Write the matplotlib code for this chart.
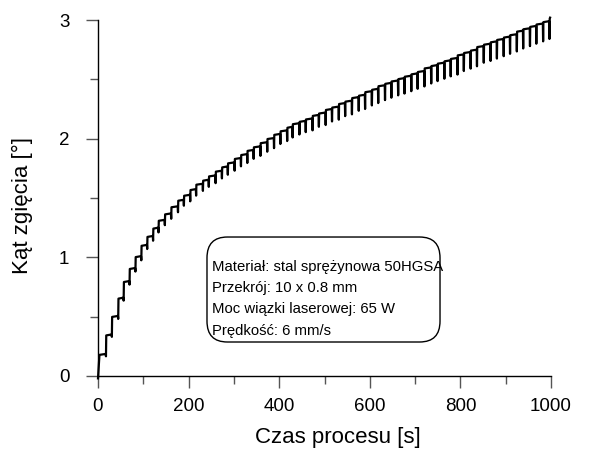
import numpy as np
import matplotlib.pyplot as plt
from matplotlib.ticker import MultipleLocator
from matplotlib.patches import FancyBboxPatch

plt.rcParams['font.family'] = ['Liberation Sans', 'DejaVu Sans']

# Times of the laser passes [s]
pass_times = [2, 17, 30, 44, 56, 69, 82, 95, 108, 121, 133, 147, 161, 176,
              189, 203, 216, 231, 244, 259, 273, 286, 301, 315, 329, 343, 358,
              373, 388, 402, 417, 429, 444, 458, 473, 487, 502, 516, 531, 545,
              560, 575, 589, 604, 618, 633, 647, 662, 676, 691, 705, 720, 735,
              749, 764, 778, 793, 807, 822, 836, 851, 866, 880, 895, 909, 924,
              938, 953, 967, 982, 996]

# Bending angle reached after each pass [deg]
levels = [0.186, 0.35, 0.506, 0.66, 0.80, 0.91, 1.01, 1.105, 1.18, 1.25, 1.316,
          1.37, 1.43, 1.485, 1.527, 1.575, 1.62, 1.654, 1.69, 1.73, 1.766, 1.80,
          1.837, 1.87, 1.905, 1.935, 1.97, 2.005, 2.04, 2.07, 2.10, 2.13, 2.15,
          2.17, 2.20, 2.22, 2.25, 2.27, 2.30, 2.32, 2.35, 2.37, 2.40, 2.42, 2.45,
          2.47, 2.49, 2.51, 2.53, 2.55, 2.57, 2.60, 2.62, 2.64, 2.66, 2.68, 2.71,
          2.73, 2.75, 2.78, 2.80, 2.82, 2.84, 2.86, 2.88, 2.91, 2.93, 2.95, 2.97,
          2.99, 3.02]

# Momentary drop of the angle when the beam passes [deg]
drops = [0.02, 0.02, 0.02, 0.025, 0.025, 0.03, 0.03, 0.035, 0.035, 0.04, 0.04,
         0.045, 0.045, 0.05, 0.05, 0.055, 0.055, 0.06, 0.06, 0.065, 0.065, 0.07,
         0.07, 0.07, 0.075, 0.075, 0.08, 0.08, 0.085, 0.085, 0.09, 0.09, 0.095,
         0.095, 0.10, 0.10, 0.105, 0.105, 0.11, 0.11, 0.115, 0.115, 0.12, 0.12,
         0.12, 0.125, 0.125, 0.125, 0.13, 0.13, 0.13, 0.13, 0.135, 0.135, 0.135,
         0.135, 0.14, 0.14, 0.14, 0.14, 0.14, 0.145, 0.145, 0.145, 0.145, 0.145,
         0.15, 0.15, 0.15, 0.15, 0.15]

creep = 0.008

# build the sawtooth path from the pass data
t = [0.0]
y = [-0.02]
prev = 0.0
for i, tp in enumerate(pass_times):
    if i > 0:
        t.append(tp)
        y.append(prev + creep)
        t.append(tp + 0.6)
        y.append(prev + creep - drops[i])
    t.append(tp + 1.2)
    y.append(levels[i] - creep)
    prev = levels[i] - creep
t.append(pass_times[-1] + 2)
y.append(levels[-1])

fig = plt.figure(figsize=(5.93, 4.55), dpi=100)
ax = fig.add_axes([98 / 593, 79 / 455, 453 / 593, 356 / 455])

ax.plot(t, y, color='black', lw=1.6, clip_on=False, zorder=3)

ax.set_xlim(0, 1000)
ax.set_ylim(0, 3)
ax.xaxis.set_major_locator(MultipleLocator(200))
ax.xaxis.set_minor_locator(MultipleLocator(100))
ax.yaxis.set_major_locator(MultipleLocator(1))
ax.yaxis.set_minor_locator(MultipleLocator(0.5))

for s in ['top', 'right']:
    ax.spines[s].set_visible(False)
for s in ['left', 'bottom']:
    ax.spines[s].set_linewidth(1.0)

ax.tick_params(which='major', length=8.6, width=1.0, color='#555555',
               labelsize=13.5, pad=7)
ax.tick_params(which='minor', length=5.8, width=1.0, color='#555555')
ax.tick_params(axis='y', which='major', pad=12)

ax.set_xlabel('Czas procesu [s]', fontsize=16)
ax.xaxis.set_label_coords(0.53, -0.143)
ax.set_ylabel('Kąt zgięcia [°]', fontsize=16)
ax.yaxis.set_label_coords(-0.143, 0.48)

# info box
box = FancyBboxPatch((0.2406, 0.0955), 0.5144, 0.2949,
                     boxstyle='round,pad=0,rounding_size=0.045',
                     transform=ax.transAxes, facecolor='white',
                     edgecolor='black', lw=1.0, mutation_aspect=1.3)
ax.add_patch(box)

info = ('Materiał: stal sprężynowa 50HGSA\n'
        'Przekrój: 10 x 0.8 mm\n'
        'Moc wiązki laserowej: 65 W\n'
        'Prędkość: 6 mm/s')
ax.text(0.2517, 0.217, info, transform=ax.transAxes, fontsize=10.7,
        va='center', ha='left', linespacing=1.68)

fig.savefig('out.png', dpi=100)
